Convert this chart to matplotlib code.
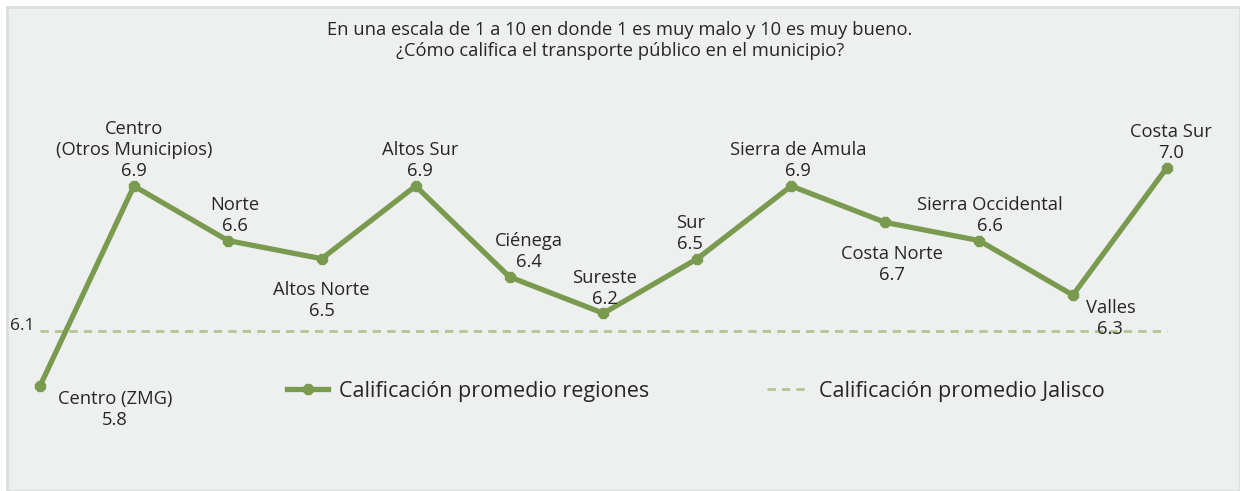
import matplotlib
matplotlib.use("Agg")
import matplotlib.pyplot as plt
from matplotlib.patches import Rectangle

plt.rcParams['font.family'] = ['Open Sans', 'DejaVu Sans']

regions = ["Centro (ZMG)", "Centro\n(Otros Municipios)", "Norte", "Altos Norte", "Altos Sur",
           "Ciénega", "Sureste", "Sur", "Sierra de Amula", "Costa Norte",
           "Sierra Occidental", "Valles", "Costa Sur"]
values = [5.8, 6.9, 6.6, 6.5, 6.9, 6.4, 6.2, 6.5, 6.9, 6.7, 6.6, 6.3, 7.0]
jalisco_avg = 6.1
title = ("En una escala de 1 a 10 en donde 1 es muy malo y 10 es muy bueno.\n"
         "¿Cómo califica el transporte público en el municipio?")
series_name = "Calificación promedio regiones"
avg_name = "Calificación promedio Jalisco"

# label offsets in points (dx, dy) and vertical alignment
label_offsets = [(54, -3, 'top'), (0, 4, 'bottom'), (5, 4, 'bottom'), (0, -16, 'top'),
                 (3, 4, 'bottom'), (14, 4, 'bottom'), (1, 4, 'bottom'), (-5, 4, 'bottom'),
                 (5, 4, 'bottom'), (5, -16, 'top'), (8, 4, 'bottom'), (27, -3, 'top'),
                 (3, 4, 'bottom')]

green = '#7a9a4f'
light_green = '#b4c492'
txt = '#262626'

fig = plt.figure(figsize=(12.4, 4.91), dpi=100)
fig.patch.set_facecolor('white')
fig.patches.append(Rectangle((7/1240, 0), 1 - 7/1240, 1 - 7/491, transform=fig.transFigure,
                             facecolor='#eef0ef', edgecolor='#dcdedd', linewidth=2, zorder=-5))

ax = fig.add_axes([0, 0, 1, 1])
ax.set_facecolor('none')
ax.axis('off')
x = list(range(len(values)))
ax.set_xlim(-40/93.9, 1200/93.9)
ax.set_ylim(6.9 - 305/181.8, 6.9 + 186/181.8)

ax.plot(x, values, color=green, lw=3.8, marker='8', ms=8, solid_joinstyle='miter',
        label=series_name, zorder=3)
ax.plot([x[0], x[-1]], [jalisco_avg, jalisco_avg], color=light_green, lw=2,
        dashes=(3, 2.2), label=avg_name, zorder=2)

ax.annotate(f"{jalisco_avg:.1f}", (x[0], jalisco_avg), xytext=(-13, 4), textcoords='offset points',
            ha='center', va='center', fontsize=12.5, color=txt)

for xi, v, name, (dx, dy, va) in zip(x, values, regions, label_offsets):
    ax.annotate(f"{name}\n{v:.1f}", (xi, v), xytext=(dx, dy), textcoords='offset points',
                ha='center', va=va, fontsize=13.2, color=txt, linespacing=1.22)

fig.text(0.5, 1 - 21/491, title, ha='center', va='top', fontsize=13.2, color=txt,
         linespacing=1.25)

leg = ax.legend(ncol=2, loc='center', bbox_to_anchor=(696/1240, 1 - 391/491),
                frameon=False, fontsize=15.5, handlelength=1.9, columnspacing=5.5,
                handletextpad=0.5, labelcolor=txt)

fig.savefig('out.png', dpi=100, facecolor='white')
